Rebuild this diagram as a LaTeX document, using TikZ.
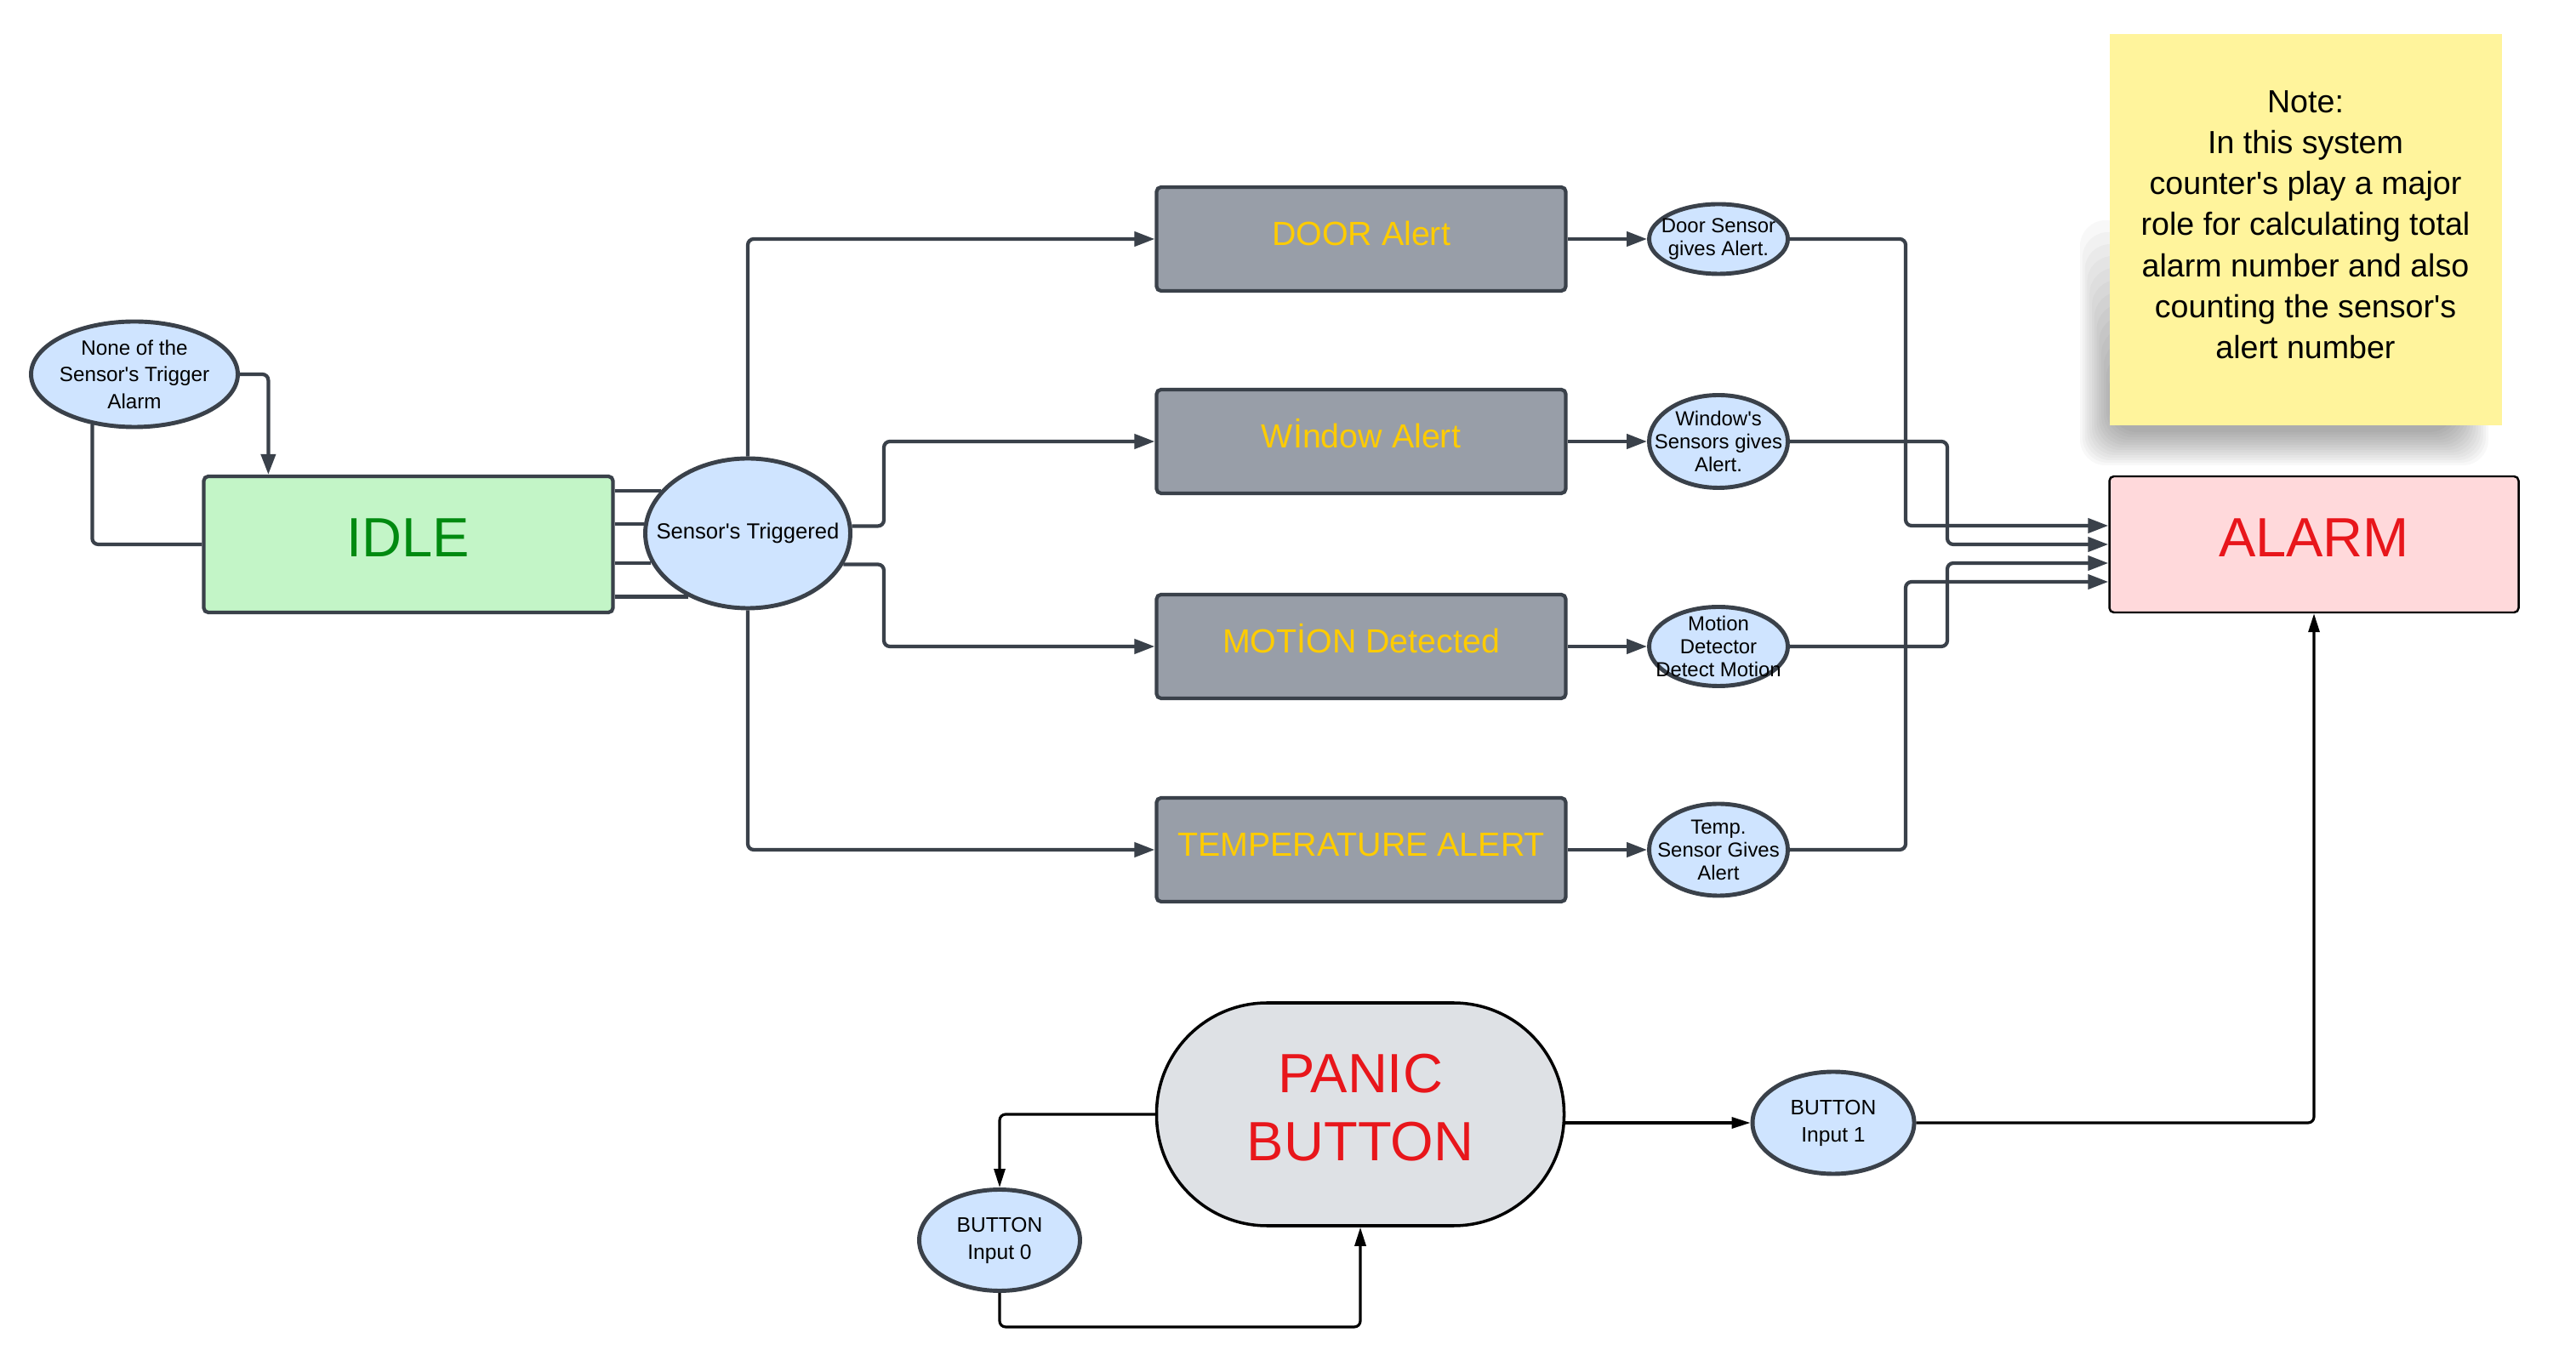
\documentclass[tikz,border=0pt]{standalone}
\usepackage{fontspec}
\setmainfont{Liberation Sans}
\usetikzlibrary{arrows.meta,calc,positioning,shapes.geometric}

\definecolor{edge}{HTML}{3A414A}
\definecolor{idlefill}{HTML}{C3F5C7}
\definecolor{idletext}{HTML}{008A10}
\definecolor{bubfill}{HTML}{CFE4FF}
\definecolor{alertfill}{HTML}{989EA8}
\definecolor{alerttext}{HTML}{FFCC00}
\definecolor{alarmfill}{HTML}{FFD9DB}
\definecolor{alarmtext}{HTML}{E8161B}
\definecolor{panicfill}{HTML}{DEE1E5}
\definecolor{notefill}{HTML}{FFF49C}
\newcommand{\ap}{\textquotesingle}

\begin{document}
\begin{tikzpicture}[
    link/.style={draw=edge, line width=1.2pt, rounded corners=2pt},
    arr/.style={-{Triangle[length=0.24cm,width=0.17cm]}},
    plink/.style={draw=black, line width=0.9pt, rounded corners=2pt},
    parr/.style={-{Triangle[length=0.22cm,width=0.13cm]}},
    bubble/.style={ellipse, draw=edge, line width=1.4pt, fill=bubfill, inner sep=0pt},
    bubtext/.style={align=center, font=\fontsize{6.8}{7.7}\selectfont},
    smalltext/.style={align=center, font=\fontsize{7}{9.1}\selectfont},
    alertbox/.style={rectangle, draw=edge, line width=1.2pt, fill=alertfill, rounded corners=1.5pt,
      minimum width=4.81cm, minimum height=1.22cm, text=alerttext, font=\fontsize{11.2}{13}\selectfont,
      text height=0.29cm, text depth=0.13cm},
    sensebub/.style={bubble, minimum width=1.63cm},
    bigtext/.style={font=\fontsize{18.5}{22.8}\selectfont, align=center},
  ]
    \useasboundingbox (0,0) rectangle (30.28,15.99);

    % left part
    \node[bubble, minimum width=2.43cm, minimum height=1.24cm,
      label={[smalltext, font=\fontsize{6.9}{9}\selectfont]center:{None of the\\Sensor\ap s Trigger\\Alarm}}] (none) at (1.58,11.59) {};
    \node[draw=edge, line width=1.2pt, fill=idlefill, rounded corners=1.5pt, minimum width=4.81cm,
      minimum height=1.60cm, text=idletext, bigtext, text height=0.47cm, text depth=0.17cm] (idle) at (4.80,9.59) {IDLE};
    \node[bubble, minimum width=2.41cm, minimum height=1.76cm,
      label={[smalltext, font=\fontsize{7.3}{9}\selectfont]center:{Sensor\ap s Triggered}}] (trig) at (8.79,9.72) {};

    \foreach \ang in {154.6,175.7,197.6,227.3}
        \draw[link] (idle.east |- trig.\ang) -- (trig.\ang);
    \draw[link, arr] (none.east) -| ([xshift=7.8mm]idle.north west);
    \draw[link] (none.230) |- (idle.west);

    % alerts
    \node[alertbox] (door) at (16.00,13.18) {DOOR Alert};
    \node[alertbox] (win) at (16.00,10.80) {Wİndow Alert};
    \node[alertbox] (motion) at (16.00,8.39) {MOTİON Detected};
    \node[alertbox] (temp) at (16.00,6.00) {TEMPERATURE ALERT};

    \coordinate (split) at (10.39,9.72);
    \draw[link, arr] (trig.north) |- (door.west);
    \draw[link, arr] (trig.4) -- (trig.4 -| split) |- (win.west);
    \draw[link, arr] (trig.-18) -- (trig.-18 -| split) |- (motion.west);
    \draw[link, arr] (trig.south) |- (temp.west);

    \node[sensebub, minimum height=0.82cm, label={[bubtext]center:{Door Sensor\\gives Alert.}}] (dsen) at (20.20,13.18) {};
    \node[sensebub, minimum height=1.09cm, label={[bubtext]center:{Window\ap s\\Sensors gives\\Alert.}}] (wsen) at (20.20,10.80) {};
    \node[sensebub, minimum height=0.93cm, label={[bubtext]center:{Motion\\Detector\\Detect Motion}}] (msen) at (20.20,8.39) {};
    \node[sensebub, minimum height=1.08cm, label={[bubtext]center:{Temp.\\Sensor Gives\\Alert}}] (tsen) at (20.20,6.00) {};

    \foreach \a/\s in {door/dsen, win/wsen, motion/msen, temp/tsen}
        \draw[link, arr] (\a.east) -- (\s.west);

    % alarm and note
    \node[draw=black, line width=0.7pt, fill=alarmfill, rounded corners=1.5pt, minimum width=4.81cm,
      minimum height=1.60cm, text=alarmtext, bigtext, text height=0.47cm, text depth=0.17cm] (alarm) at (27.20,9.59) {ALARM};
    % soft shadow under the sticky note
    \foreach \k in {0,...,13}
        \fill[black, opacity=0.028, rounded corners=0.3cm]
          (24.45+\k*0.028, 10.52+\k*0.03) rectangle (29.25-\k*0.03, 13.4-\k*0.14);
    \node[fill=notefill, minimum width=4.61cm, minimum height=4.60cm, align=center,
      font=\fontsize{10.7}{13.7}\selectfont, text depth=0.12cm]
      (memo) at (27.10,13.29) {Note:\\In this system\\counter\ap s play a major\\role for calculating total\\alarm number and also\\counting the sensor\ap s\\alert number};

    \coordinate (jA) at (22.40,0);
    \coordinate (jB) at (22.89,0);
    \coordinate (in1) at ($(alarm.west)+(0,0.22)$);
    \coordinate (in2) at (alarm.west);
    \coordinate (in3) at ($(alarm.west)+(0,-0.22)$);
    \coordinate (in4) at ($(alarm.west)+(0,-0.44)$);
    \draw[link, arr] (dsen.east) -| (jA |- in1) -- (in1);
    \draw[link, arr] (wsen.east) -| (jB |- in2) -- (in2);
    \draw[link, arr] (msen.east) -| (jB |- in3) -- (in3);
    \draw[link, arr] (tsen.east) -| (jA |- in4) -- (in4);

    % panic button
    \node[draw=black, line width=1pt, fill=panicfill, rounded corners=1.3cm, minimum width=4.79cm,
      minimum height=2.62cm, text=alarmtext, bigtext, text depth=0.16cm] (panic) at (15.99,2.89) {PANIC\\BUTTON};
    \node[bubble, minimum width=1.90cm, minimum height=1.20cm,
      label={[smalltext]center:{BUTTON\\Input 1}}] (bone) at (21.55,2.79) {};
    \node[bubble, minimum width=1.89cm, minimum height=1.19cm,
      label={[smalltext]center:{BUTTON\\Input 0}}] (bzero) at (11.75,1.41) {};

    \draw[plink, parr] (panic.east |- bone.west) -- (bone.west);
    \draw[plink, parr] (bone.east) -| (alarm.south);
    \draw[plink, parr] (panic.west) -| (bzero.north);
    \draw[plink, parr] (bzero.south) -- ++(0,-0.4) -| (panic.south);
\end{tikzpicture}
\end{document}
